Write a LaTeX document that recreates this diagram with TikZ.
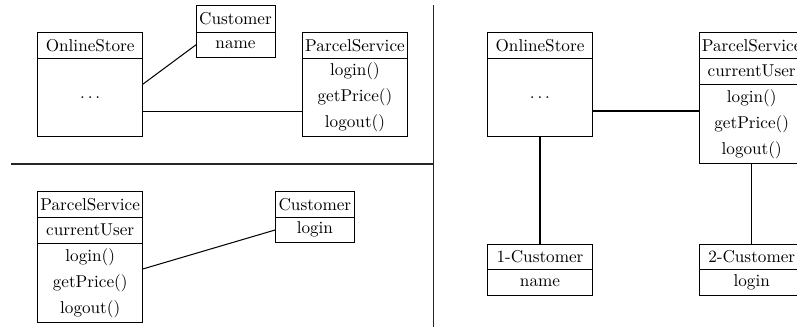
\documentclass[tikz,border=0pt]{standalone}
\usetikzlibrary{calc}
\def\u{0.5825pt}
\begin{document}
\begin{tikzpicture}[x=0.5825pt, y=-0.5825pt,
  comp/.style={draw, rectangle, inner sep=0pt, outer sep=0pt, line width=0.55pt, align=center,
    font=\fontsize{10}{15.1}\selectfont},
  link/.style={line width=0.6pt},
  sep/.style={line width=0.75pt, draw=black!85}]
\useasboundingbox (0,0) rectangle (797,327);
% separators
\coordinate (hl) at (11,164);
\coordinate (hr) at (433.7,164);
\coordinate (vt) at (433.7,5);
\coordinate (vb) at (433.7,327);
\draw[sep] (hl) -- (hr);
\draw[sep] (vt) -- (vb);
% ---- top left
\node[comp, minimum width=105*\u, minimum height=26*\u] (os1h) at (90.2,45.3) {OnlineStore};
\node[comp, minimum width=105*\u, minimum height=78.4*\u] (os1b) at (90.2,97.5) {$\ldots$};
\node[comp, minimum width=79*\u, minimum height=26.6*\u] (c1h) at (235.5,19) {Customer};
\node[comp, minimum width=79*\u, minimum height=25*\u] (c1b) at (235.5,44.8) {name};
\node[comp, minimum width=104.6*\u, minimum height=26*\u] (ps1h) at (355,45.3) {ParcelService};
\node[comp, minimum width=104.6*\u, minimum height=78.4*\u] (ps1b) at (355,97.5) {login()\\getPrice()\\logout()};
\draw[link] ([yshift=13.2*\u]os1b.east) -- (c1b.west);
\draw[link] ([yshift=-14.2*\u]os1b.east) coordinate (a1) -- (a1 -| ps1b.west);
% ---- bottom left
\node[comp, minimum width=105*\u, minimum height=26.3*\u] (ps2h) at (90.2,204.2) {ParcelService};
\node[comp, minimum width=105*\u, minimum height=26*\u] (ps2a) at (90.2,230.3) {currentUser};
\node[comp, minimum width=105*\u, minimum height=79*\u] (ps2m) at (90.2,282.8) {login()\\getPrice()\\logout()};
\node[comp, minimum width=78.3*\u, minimum height=26.3*\u] (c2h) at (314.9,204.2) {Customer};
\node[comp, minimum width=78.3*\u, minimum height=25*\u] (c2b) at (314.9,229.8) {login};
\draw[link] ([yshift=13.8*\u]ps2m.east) -- (c2b.west);
% ---- right
\node[comp, minimum width=104.6*\u, minimum height=26*\u] (os3h) at (540,45.3) {OnlineStore};
\node[comp, minimum width=104.6*\u, minimum height=78.4*\u] (os3b) at (540,97.5) {$\ldots$};
\node[comp, minimum width=104.6*\u, minimum height=26*\u] (ps3h) at (751.7,45.3) {ParcelService};
\node[comp, minimum width=104.6*\u, minimum height=26*\u] (ps3a) at (751.7,71.3) {currentUser};
\node[comp, minimum width=104.6*\u, minimum height=79*\u] (ps3m) at (751.7,123.8) {login()\\getPrice()\\logout()};
\node[comp, minimum width=104.6*\u, minimum height=25.3*\u] (c3h) at (540,256.7) {1-Customer};
\node[comp, minimum width=104.6*\u, minimum height=26.4*\u] (c3b) at (540,282.5) {name};
\node[comp, minimum width=104.6*\u, minimum height=25.3*\u] (c4h) at (751.7,256.7) {2-Customer};
\node[comp, minimum width=104.6*\u, minimum height=26.4*\u] (c4b) at (751.7,282.5) {login};
\draw[link] ([yshift=-13.5*\u]os3b.east) coordinate (a3) -- (a3 -| ps3m.west);
\draw[link] (os3b.south) -- (c3h.north);
\draw[link] (ps3m.south) -- (c4h.north);
\end{tikzpicture}
\end{document}
